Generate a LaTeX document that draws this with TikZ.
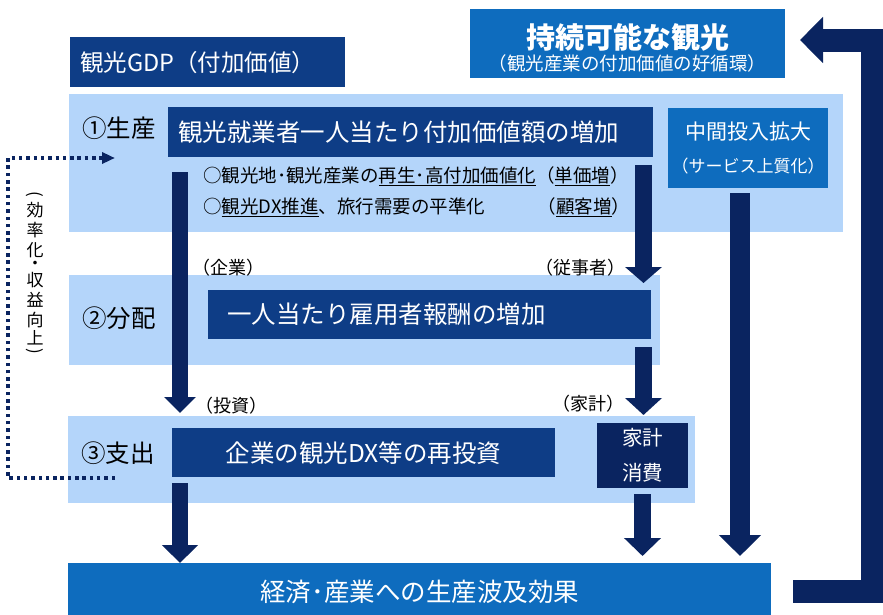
\documentclass[tikz,border=0pt]{standalone}
\usepackage{fontspec}
\setmainfont{Noto Sans CJK JP}
\usetikzlibrary{arrows.meta}
\definecolor{navybox}{RGB}{14,61,134}
\definecolor{navyarrow}{RGB}{10,36,96}
\definecolor{midblue}{RGB}{14,108,190}
\definecolor{bandblue}{RGB}{180,213,250}
\newcommand{\fsz}[1]{\fontsize{#1}{#1}\selectfont}
\begin{document}
\begin{tikzpicture}[x=1pt,y=-1pt,
  boxbase/.style={anchor=north west, inner sep=0pt, draw=none},
  bandbox/.style={boxbase, fill=bandblue},
  darkbox/.style={boxbase, fill=navybox, text=white},
  deepbox/.style={boxbase, fill=navyarrow, text=white},
  midbox/.style={boxbase, fill=midblue, text=white},
  wtext/.style={text=white, inner sep=0pt},
  btext/.style={text=black, inner sep=0pt},
  vchar/.style={btext, font=\fsz{17}},
  flowarrow/.style={draw=navyarrow, line width=#1},
]
\useasboundingbox (0,0) rectangle (883,614);

% bands
\node[bandbox, minimum width=774pt, minimum height=138pt] (band1) at (69,94) {};
\node[bandbox, minimum width=591pt, minimum height=90pt] (band2) at (69,275) {};
\node[bandbox, minimum width=627pt, minimum height=87pt] (band3) at (68,416) {};

% title boxes
\node[darkbox, text width=255pt, inner xsep=10pt, minimum height=50pt, align=left, font=\fsz{23.5}] (gdp) at (70,37) {観光GDP（付加価値）};
\node[midbox, minimum width=315pt, minimum height=69pt] (sus) at (470,9) {};
\node[wtext, font=\fsz{29}\bfseries] (sust) at (627.5,37) {持続可能な観光};
\node[wtext, font=\fsz{18.5}] (susb) at (627.5,63) {（観光産業の付加価値の好循環）};

% production
\node[btext, anchor=west, font=\fsz{24.5}] (l1) at (82,128) {①生産};
\node[darkbox, text width=465pt, inner xsep=10pt, minimum height=50pt, align=left, font=\fsz{24.5}] (prod) at (168,107) {観光就業者一人当たり付加価値額の増加};
\node[btext, anchor=west, text width=427pt, align=left, font=\fontsize{18.5}{31}\selectfont] (bul) at (203,191.5)
 {○観光地･観光産業の\underline{再生･高付加価値化}（\underline{単価増}）\\
  ○\underline{観光DX推進}、旅行需要の平準化\hfill（\underline{顧客増}）};
\node[midbox, minimum width=160pt, minimum height=80pt] (mid) at (668,108) {};
\node[wtext, font=\fsz{21}] (midt) at (748,132) {中間投入拡大};
\node[wtext, font=\fsz{17}] (midb) at (748,166) {（サービス上質化）};

% distribution
\node[btext, anchor=west, font=\fsz{24.5}] (l2) at (82,318) {②分配};
\node[darkbox, text width=405pt, inner xsep=19pt, minimum height=49pt, align=left, font=\fsz{24.5}] (dist) at (208,290) {一人当たり雇用者報酬の増加};
\node[btext, font=\fsz{18}] (kigyo) at (228,268) {（企業）};
\node[btext, font=\fsz{18}] (jujisha) at (580,268) {（従事者）};

% expenditure
\node[btext, anchor=west, font=\fsz{24.5}] (l3) at (81,453) {③支出};
\node[darkbox, text width=383pt, inner xsep=0pt, minimum height=49pt, align=center, font=\fsz{24.5}] (inv) at (172,428) {企業の観光DX等の再投資};
\node[deepbox, minimum width=91pt, minimum height=65pt] (hh) at (597,423) {};
\node[wtext, font=\fsz{20.5}] (hh1) at (642.5,438) {家計};
\node[wtext, font=\fsz{20.5}] (hh2) at (642.5,473) {消費};
\node[btext, font=\fsz{18}] (toshi) at (231,406) {（投資）};
\node[btext, font=\fsz{18}] (kakei) at (588,404) {（家計）};

% bottom
\node[midbox, text width=703pt, inner xsep=0pt, minimum height=58pt, align=center, font=\fsz{25.5}] (eff) at (68,563) {経済･産業への生産波及効果};

% vertical label
\node[vchar, rotate=-90] (v0) at (35,194) {(};
\node[vchar] (v1) at (35,210) {効};
\node[vchar] (v2) at (35,230) {率};
\node[vchar] (v3) at (35,250) {化};
\node[vchar, text height=8pt, text depth=-5pt] (v4) at (35,265.5) {・};
\node[vchar] (v5) at (35,280) {収};
\node[vchar] (v6) at (35,300) {益};
\node[vchar] (v7) at (35,320) {向};
\node[vchar] (v8) at (35,338) {上};
\node[vchar, rotate=-90] (v9) at (35,351) {)};

% arrows
\coordinate (a1s) at (180,172); \coordinate (a1e) at (180,413);
\coordinate (a2s) at (643.5,165); \coordinate (a2e) at (643.5,283);
\coordinate (a3s) at (643.5,347); \coordinate (a3e) at (643.5,415);
\coordinate (a4s) at (740,193); \coordinate (a4e) at (740,556);
\coordinate (a5s) at (180,483); \coordinate (a5e) at (180,563);
\coordinate (a6s) at (642.5,494); \coordinate (a6e) at (642.5,556);
\draw[flowarrow=16pt, -{Triangle[width=31pt,length=16pt]}] (a1s) -- (a1e);
\draw[flowarrow=17pt, -{Triangle[width=36pt,length=16pt]}] (a2s) -- (a2e);
\draw[flowarrow=17pt, -{Triangle[width=36pt,length=17pt]}] (a3s) -- (a3e);
\draw[flowarrow=20pt, -{Triangle[width=41pt,length=21pt]}] (a4s) -- (a4e);
\draw[flowarrow=16pt, -{Triangle[width=35pt,length=18pt]}] (a5s) -- (a5e);
\draw[flowarrow=17pt, -{Triangle[width=36pt,length=18pt]}] (a6s) -- (a6e);

% return arrow
\coordinate (r0) at (793,591);
\coordinate (r1) at (872,591);
\coordinate (r2) at (872,40);
\coordinate (r3) at (800,40);
\draw[flowarrow=23pt, line join=miter, -{Triangle[width=45pt,length=23pt]}] (r0) -- (r1) -- (r2) -- (r3);

% dotted feedback
\coordinate (d0) at (115,478);
\coordinate (d1) at (8,478);
\coordinate (d2) at (8,158);
\coordinate (d3) at (115,158);
\draw[draw=navyarrow, line width=3.5pt, dash pattern=on 3.5pt off 3.8pt, -{Triangle[width=11pt,length=13pt]}] (d0) -- (d1) -- (d2) -- (d3);
\end{tikzpicture}
\end{document}
